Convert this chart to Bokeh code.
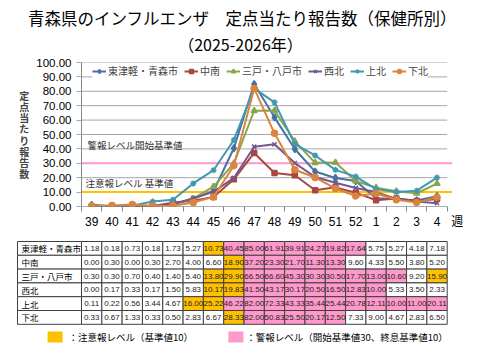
from bokeh.plotting import figure
from bokeh.models import (Range1d, FixedTicker, NumeralTickFormatter, Label,
                          Legend, LegendItem)
from bokeh.embed import file_html
from bokeh.resources import INLINE
from bokeh.core.properties import value

# ---------------- data ----------------
weeks = ["39", "40", "41", "42", "43", "44", "45", "46", "47", "48", "49", "50",
         "51", "52", "1", "2", "3", "4"]
week_unit = "週"
regions = ["東津軽・青森市", "中南", "三戸・八戸市", "西北", "上北", "下北"]
higashitsugaru = [1.18, 0.18, 0.73, 0.18, 1.73, 5.27, 10.73, 40.45, 85.00, 61.91,
                  39.91, 24.27, 19.82, 17.64, 5.75, 5.27, 4.18, 7.18]
chunan = [0.00, 0.30, 0.00, 0.30, 2.70, 4.00, 6.60, 18.90, 37.20, 23.30,
          21.70, 11.30, 13.30, 9.60, 4.33, 5.50, 3.80, 5.20]
sannohe = [0.30, 0.30, 0.70, 0.40, 1.40, 5.40, 13.80, 29.90, 66.50, 66.60,
           45.30, 30.30, 30.50, 17.70, 13.00, 10.60, 9.20, 15.90]
seihoku = [0.00, 0.17, 0.33, 0.17, 1.50, 5.83, 10.17, 19.83, 41.50, 43.17,
           30.17, 20.50, 16.50, 12.83, 10.00, 5.33, 3.50, 2.33]
kamikita = [0.11, 0.22, 0.56, 3.44, 4.67, 16.00, 25.22, 46.22, 82.00, 72.33,
            43.33, 35.44, 25.44, 20.78, 12.11, 10.00, 11.00, 20.11]
shimokita = [0.33, 0.67, 1.33, 0.33, 0.50, 2.83, 6.67, 28.33, 82.00, 50.83,
             25.50, 20.17, 12.50, 7.33, 9.00, 4.67, 2.83, 6.50]
series = [higashitsugaru, chunan, sannohe, seihoku, kamikita, shimokita]
y_ticks = list(range(0, 101, 10))
alert_start = 30
alert_end = 10
caution_level = 10

colors = ["#4572A7", "#AA4643", "#89A54E", "#71588F", "#4198AF", "#DB843D"]
markers = ["diamond", "square", "triangle", "x", "asterisk", "circle"]
msizes = [7, 5, 6, 6, 6, 6]
ORANGE = "#FFC000"
PINK = "#FF99CC"
GRID = "#a6a6a6"
AXIS = "#868686"
JP = "Noto Sans CJK JP"
NUM = "Liberation Sans"
W = 480

n = len(weeks)
xs = list(range(n))

# ---------------- header (titles) ----------------
h = figure(width=W, height=55, x_range=Range1d(0, W), y_range=Range1d(55, 0),
           output_backend="svg", toolbar_location=None, min_border=0,
           x_axis_location=None, y_axis_location=None)
h.outline_line_color = None
h.grid.visible = False
h.text(x=[242], y=[17], text=["青森県のインフルエンザ　定点当たり報告数（保健所別）"],
       text_font=value(JP), text_font_size="16.5px", text_align="center",
       text_baseline="middle", text_color="black")
h.text(x=[240], y=[43.3], text=["（2025-2026年）"],
       text_font=value(JP), text_font_size="16px", text_align="center",
       text_baseline="middle", text_color="black")

# ---------------- chart ----------------
p = figure(width=W, height=182, x_range=Range1d(-0.5, n + 0.5),
           y_range=Range1d(0, 100), output_backend="svg", toolbar_location=None,
           min_border_left=81, min_border_right=13, min_border_top=7,
           min_border_bottom=31)
p.outline_line_color = None

p.yaxis.ticker = FixedTicker(ticks=y_ticks)
p.yaxis.formatter = NumeralTickFormatter(format="0.00")
p.yaxis.axis_line_color = AXIS
p.yaxis.major_tick_line_color = GRID
p.yaxis.minor_tick_line_color = None
p.yaxis.major_tick_in = 0
p.yaxis.major_tick_out = 5
p.yaxis.major_label_standoff = 5
p.yaxis.major_label_text_font = NUM
p.yaxis.major_label_text_font_size = "11.5px"
p.yaxis.major_label_text_color = "black"
p.yaxis.axis_label = "\n".join("定点当たり報告数")
p.yaxis.axis_label_orientation = "horizontal"
p.yaxis.axis_label_text_font = JP
p.yaxis.axis_label_text_font_size = "10px"
p.yaxis.axis_label_text_font_style = "bold"
p.yaxis.axis_label_text_line_height = 0.74
p.yaxis.axis_label_standoff = 4

p.xaxis.ticker = FixedTicker(ticks=xs + [n], minor_ticks=[i - 0.5 for i in range(n + 1)])
labels = {i: w for i, w in enumerate(weeks)}
labels[n] = week_unit
p.xaxis.major_label_overrides = labels
p.xaxis.major_tick_line_color = None
p.xaxis.major_tick_in = 0
p.xaxis.major_tick_out = 0
p.xaxis.minor_tick_in = 0
p.xaxis.minor_tick_out = 5
p.xaxis.minor_tick_line_color = AXIS
p.xaxis.axis_line_color = None
p.xaxis.major_label_standoff = 3
p.xaxis.major_label_text_font = "Liberation Sans, Noto Sans CJK JP"
p.xaxis.major_label_text_font_size = "12px"
p.xaxis.major_label_text_color = "black"
p.grid.visible = False

# horizontal gridlines only across the week categories
p.segment(x0=[-0.5] * len(y_ticks), x1=[n - 0.5] * len(y_ticks), y0=y_ticks, y1=y_ticks,
          line_color=GRID, line_width=1)
p.segment(x0=[-0.5], x1=[n - 0.5], y0=[0], y1=[0], line_color=AXIS, line_width=1)

# threshold lines
p.segment(x0=[-0.5, -0.5], x1=[n - 0.25, n - 0.25], y0=[alert_start, caution_level],
          y1=[alert_start, caution_level], line_color=[PINK, ORANGE], line_width=2)
p.add_layout(Label(x=-0.21, y=42.4, text="警報レベル開始基準値", text_font=JP,
                   text_font_size="9.5px", text_baseline="middle", text_color="#333333"))
p.add_layout(Label(x=-0.30, y=16.0, text="注意報レベル 基準値", text_font=JP,
                   text_font_size="9.5px", text_baseline="middle", text_color="#333333"))

items = []
for name, vals, c, m, s in zip(regions, series, colors, markers, msizes):
    ln = p.line(xs, vals, line_color=c, line_width=2)
    mk = p.scatter(xs, vals, marker=m, size=s, fill_color=c, line_color=c, line_width=1.5)
    items.append(LegendItem(label=name, renderers=[ln, mk]))

legend = Legend(items=items, orientation="horizontal", location=(11, 128),
                border_line_color=None, background_fill_color="white",
                background_fill_alpha=1.0, label_text_font=JP,
                label_text_font_size="10px", glyph_width=14, glyph_height=10,
                label_standoff=2, spacing=6, padding=2, margin=0)
p.add_layout(legend)

# ---------------- data table ----------------
t = figure(width=W, height=123, x_range=Range1d(-4.487, 19.139),
           y_range=Range1d(8.123, -0.79), output_backend="svg",
           toolbar_location=None, min_border=0, x_axis_location=None,
           y_axis_location=None)
t.outline_line_color = None
t.grid.visible = False

cx, cy, txt, fills = [], [], [], []
for r, vals in enumerate(series):
    alert = False
    for i, v in enumerate(vals):
        if alert:
            if v < alert_end:
                alert = False
        elif v >= alert_start:
            alert = True
        if alert:
            f = PINK
        elif v >= caution_level:
            f = ORANGE
        else:
            f = "white"
        cx.append(i)
        cy.append(r)
        txt.append(f"{v:.2f}")
        fills.append(f)

rows = list(range(len(regions)))
t.rect(x=[-2.075] * len(rows), y=rows, width=3.15, height=1, fill_color="white",
       line_color="#404040", line_width=1)
t.rect(x=cx, y=cy, width=1, height=1, fill_color=fills, line_color="#404040", line_width=1)
t.text(x=[-3.45] * len(rows), y=rows, text=regions, text_font=value(JP),
       text_font_size="8.5px", text_baseline="middle", text_align="left")
t.text(x=cx, y=cy, text=txt, text_font=value(NUM),
       text_font_size="8px", text_baseline="middle", text_align="center",
       text_color="#222222")

t.rect(x=[-1.80, 7.10], y=[6.42, 6.42], width=0.74, height=0.8,
       fill_color=[ORANGE, PINK], line_color=None)
t.text(x=[-1.14, 7.61], y=[6.42, 6.42],
       text=["：注意報レベル（基準値10）", "：警報レベル（開始基準値30、終息基準値10）"],
       text_font=value(JP), text_font_size="9.5px", text_baseline="middle",
       text_align="left")

open("out.html", "w").write(file_html([h, p, t], INLINE))
